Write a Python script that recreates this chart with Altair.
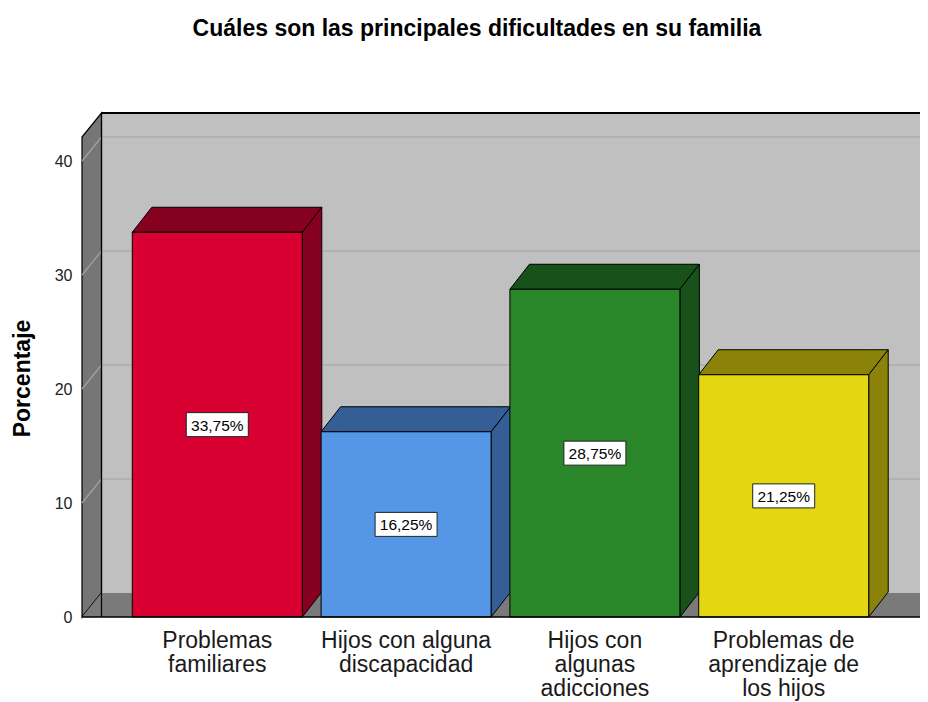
import altair as alt
import pandas as pd

# ---------------- data ----------------
categories = ["Problemas\nfamiliares", "Hijos con alguna\ndiscapacidad",
              "Hijos con\nalgunas\nadicciones", "Problemas de\naprendizaje de\nlos hijos"]
values = [33.75, 16.25, 28.75, 21.25]
value_labels = ["33,75%", "16,25%", "28,75%", "21,25%"]
y_ticks = [0, 10, 20, 30, 40]
grid_values = [10, 20, 30, 40]

# ---------------- style ----------------
front_colors = ["#d70030", "#5596e6", "#29872a", "#e3d712"]
dark_colors = ["#860020", "#345e95", "#18521a", "#8b8309"]
FONT = "Liberation Sans"
PX_X = 188.8          # pixels per category unit
PX_Y = 11.4           # pixels per percent
XMIN, XMAX = -0.7166, 3.7219
YMAX = 504 / PX_Y
HALF = 85 / PX_X      # bar half width
DX = 19.5 / PX_X      # depth offset x
DY_BAR = 25 / PX_Y    # depth offset y (bars)
DY_WALL = 24 / PX_Y   # depth offset y (walls)
BOX_HW = 31 / PX_X
BOX_HH = 12 / PX_Y
LABEL_Y = -1.13

xs = alt.Scale(domain=[XMIN, XMAX], nice=False, zero=False)
ys = alt.Scale(domain=[0, YMAX], nice=False, zero=False)

Y_AXIS = alt.Axis(values=y_ticks, ticks=False, domain=False, grid=False,
                  labelFont=FONT, labelFontSize=16, labelColor="#222",
                  labelPadding=10, title="Porcentaje",
                  titleFont=FONT, titleFontSize=23, titleFontWeight="bold",
                  titleColor="black", titleX=-60, titleY=265,
                  titleAngle=270, titleAlign="center",
                  titleBaseline="middle")

def X(f="x"):
    return alt.X(f"{f}:Q", scale=xs, axis=None)

def Y(f="y"):
    return alt.Y(f"{f}:Q", scale=ys, stack=None, axis=Y_AXIS)

# ---------- tables ----------
bars = pd.DataFrame({
    "i": range(len(values)), "v": values, "lab": value_labels,
    "cat": categories, "front": front_colors, "dark": dark_colors,
})
bars["xl"] = bars["i"] - HALF
bars["xr"] = bars["i"] + HALF
bars["zero"] = 0.0
bars["mid"] = bars["v"] / 2
bars["bx1"] = bars["i"] - BOX_HW
bars["bx2"] = bars["i"] + BOX_HW
bars["by1"] = bars["mid"] - BOX_HH
bars["by2"] = bars["mid"] + BOX_HH
bars["ly"] = LABEL_Y

poly_rows = []
for _, r in bars.iterrows():
    pid = f"top{r.i}"
    for x, y, y2 in [(r.xl, r.v, r.v), (r.xl + DX, r.v, r.v + DY_BAR),
                     (r.xr, r.v, r.v + DY_BAR), (r.xr + DX, r.v + DY_BAR, r.v + DY_BAR)]:
        poly_rows.append({"pid": pid, "x": x, "y": y, "y2": y2, "col": r.dark})
    pid = f"side{r.i}"
    for x, y, y2 in [(r.xr, 0, r.v), (r.xr + DX, DY_BAR, r.v + DY_BAR)]:
        poly_rows.append({"pid": pid, "x": x, "y": y, "y2": y2, "col": r.dark})
polys = pd.DataFrame(poly_rows)

wall = pd.DataFrame({"x": [XMIN + DX], "x2": [XMAX], "y": [DY_WALL], "y2": [YMAX]})
left_wall = pd.DataFrame({"x": [XMIN, XMIN + DX], "y": [0, DY_WALL],
                          "y2": [YMAX - DY_WALL, YMAX]})
floor = pd.DataFrame({"x": [XMIN, XMIN + DX, XMAX], "y": [0, 0, 0],
                      "y2": [0, DY_WALL, DY_WALL]})
grid = pd.DataFrame({"v": grid_values})
grid["yb"] = grid["v"] + DY_WALL
grid["x"] = XMIN + DX
grid["x2"] = XMAX
grid["xl"] = XMIN
edges = pd.DataFrame({"x": [XMIN], "x2": [XMAX], "y": [0.0], "yt": [YMAX],
                      "xb": [XMIN + DX]})

# ---------- layers ----------
back = alt.Chart(wall).mark_rect(fill="#c0c0c0").encode(
    x=X(), x2="x2:Q", y=Y(), y2="y2:Q")

grid_back = alt.Chart(grid).mark_rule(color="#acacac", strokeWidth=1.5).encode(
    x=X(), x2="x2:Q", y=Y("yb"))

lwall = alt.Chart(left_wall).mark_area(fill="#767676", stroke="black",
                                       strokeWidth=1.2).encode(
    x=X(), y=Y(), y2="y2:Q")

grid_left = alt.Chart(grid).mark_rule(color="#a2a2a2", strokeWidth=1.2).encode(
    x=X("xl"), x2="x:Q", y=Y("v"), y2="yb:Q")

floor_l = alt.Chart(floor).mark_area(fill="#7a7a7a").encode(
    x=X(), y=Y(), y2="y2:Q")

top_edge = alt.Chart(edges).mark_rule(color="black", strokeWidth=2).encode(
    x=X("xb"), x2="x2:Q", y=Y("yt"))
back_edge = alt.Chart(edges).mark_rule(color="black", strokeWidth=1.2).encode(
    x=X("xb"), y=Y("yt"), y2="y:Q")
bottom_edge = alt.Chart(edges).mark_rule(color="black", strokeWidth=1.5).encode(
    x=X(), x2="x2:Q", y=Y())

faces = alt.Chart(polys).mark_area(stroke="black", strokeWidth=1,
                                   opacity=1).encode(
    x=X(), y=Y(), y2="y2:Q",
    color=alt.Color("col:N", scale=None, legend=None),
    detail="pid:N")

fronts = alt.Chart(bars).mark_rect(stroke="black", strokeWidth=1).encode(
    x=X("xl"), x2="xr:Q", y=Y("zero"), y2="v:Q",
    color=alt.Color("front:N", scale=None, legend=None))

boxes = alt.Chart(bars).mark_rect(fill="white", stroke="#222",
                                  strokeWidth=1).encode(
    x=X("bx1"), x2="bx2:Q", y=Y("by1"), y2="by2:Q")

box_text = alt.Chart(bars).mark_text(font=FONT, fontSize=15.5, color="black",
                                     baseline="middle", dy=1).encode(
    x=X("i"), y=Y("mid"), text="lab:N")

cat_text = alt.Chart(bars).mark_text(font=FONT, fontSize=23, color="#1a1a1a",
                                     baseline="top", lineBreak="\n",
                                     lineHeight=24).encode(
    x=X("i"), y=Y("ly"), text="cat:N")

chart = alt.layer(
    back, grid_back, lwall, grid_left, floor_l, top_edge, back_edge,
    faces, fronts, bottom_edge, boxes, box_text, cat_text
).properties(
    width=838, height=504,
    title=alt.TitleParams("Cuáles son las principales dificultades en su familia",
                          font=FONT, fontSize=23, fontWeight="bold",
                          color="black", anchor="middle", dx=-24, offset=70),
    autosize=alt.AutoSizeParams(type="none"),
    padding={"left": 74, "top": 105, "right": 0, "bottom": 84},
).configure_view(stroke=None)

chart.save("out.html", embed_options={"renderer": "svg", "actions": False})
